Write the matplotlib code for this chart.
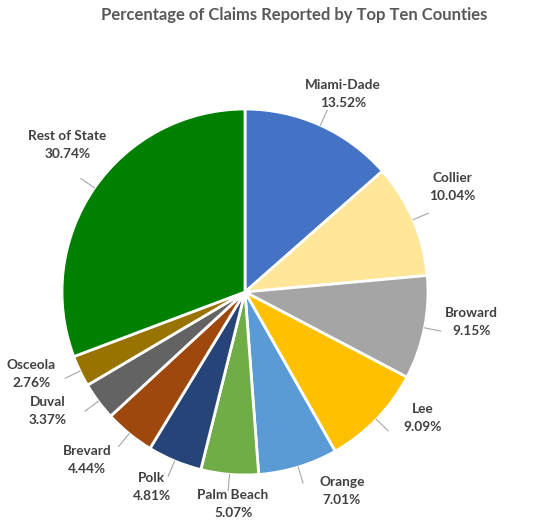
import numpy as np
import matplotlib
matplotlib.use("Agg")
import matplotlib.pyplot as plt

counties = ["Miami-Dade", "Collier", "Broward", "Lee", "Orange", "Palm Beach",
            "Polk", "Brevard", "Duval", "Osceola", "Rest of State"]
percentages = [13.52, 10.04, 9.15, 9.09, 7.01, 5.07, 4.81, 4.44, 3.37, 2.76, 30.74]
colors = ["#4472C4", "#FFE699", "#A5A5A5", "#FFC000", "#5B9BD5", "#70AD47",
          "#264478", "#9E480E", "#636363", "#997300", "#008000"]
title = "Percentage of Claims Reported by Top Ten Counties"

# label placement style: (angle nudge in degrees, radius factor)
label_style = [(-2, 1.21), (3.5, 1.27), (3.7, 1.25), (8.7, 1.19), (9, 1.21), (1.6, 1.16),
               (-3, 1.18), (-4, 1.26), (-5.7, 1.26), (-4.6, 1.25), (-4.9, 1.26)]

plt.rcParams['font.family'] = ['Lato', 'DejaVu Sans']
fig = plt.figure(figsize=(5.38, 5.24), dpi=100)
ax = fig.add_axes([0, 0, 1, 1])
R = 183.0

wedges, _ = ax.pie(percentages, colors=colors, startangle=90, counterclock=False,
                   radius=1.0, center=(0, 0), frame=True,
                   wedgeprops=dict(edgecolor='white', linewidth=2))
ax.set_xlim(-245 / R, (538 - 245) / R)
ax.set_ylim(-(524 - 292) / R, 292 / R)
ax.set_aspect('auto')
ax.axis('off')

for w, name, pct, (dang, rf) in zip(wedges, counties, percentages, label_style):
    mid = np.deg2rad((w.theta1 + w.theta2) / 2)
    la = mid + np.deg2rad(dang)
    lx, ly = rf * np.cos(la), rf * np.sin(la)
    ax.text(lx, ly, f"{name}\n{pct:.2f}%", ha='center', va='center',
            fontsize=9.8, fontweight='bold', color='#404040', linespacing=1.6)
    # leader line
    x0, y0 = np.cos(mid), np.sin(mid)
    x1, y1 = 1.09 * np.cos(mid), 1.09 * np.sin(mid)
    ax.plot([x0, x1], [y0, y1], color='#A6A6A6', lw=0.8)

fig.text(294 / 538, 1 - 15 / 524, title, ha='center', va='center',
         fontsize=12, fontweight='bold', color='#595959')

fig.savefig("out.png", dpi=100)
